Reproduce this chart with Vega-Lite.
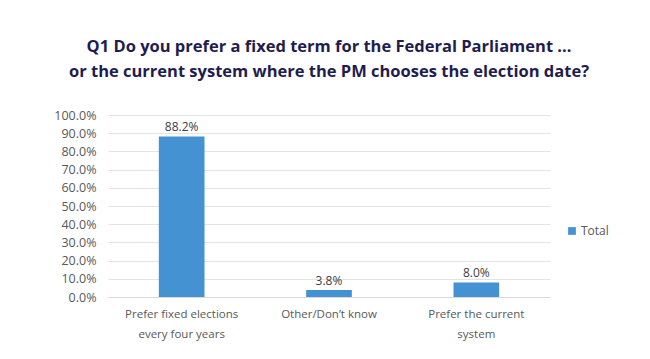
{
  "$schema": "https://vega.github.io/schema/vega-lite/v6.json",
  "width": 442,
  "height": 182,
  "autosize": {"type": "none"},
  "padding": {"left": 108, "top": 115, "right": 100, "bottom": 62},
  "background": "white",
  "title": {
    "text": ["Q1 Do you prefer a fixed term for the Federal Parliament ...", "or the current system where the PM chooses the election date?"],
    "font": "Open Sans",
    "fontSize": 16.5,
    "fontWeight": "bold",
    "color": "#1f1d4f",
    "lineHeight": 25,
    "anchor": "middle",
    "offset": 29
  },
  "data": {
    "values": [
      {"answer": "Prefer fixed elections every four years", "pct": 0.882, "series": "Total"},
      {"answer": "Other/Don't know", "pct": 0.038, "series": "Total"},
      {"answer": "Prefer the current system", "pct": 0.08, "series": "Total"}
    ]
  },
  "config": {
    "view": {"stroke": null},
    "font": "Open Sans",
    "axis": {"labelFont": "Open Sans", "labelColor": "#595959"}
  },
  "encoding": {
    "x": {
      "field": "answer",
      "type": "nominal",
      "sort": null,
      "scale": {"paddingInner": 0.69, "paddingOuter": 0.345},
      "axis": {
        "title": null,
        "labelAngle": 0,
        "ticks": false,
        "domain": true,
        "domainColor": "#d9d9d9",
        "labelFontSize": 11.5,
        "labelPadding": 11,
        "labelLineHeight": 20,
        "labelExpr": "datum.label == 'Prefer fixed elections every four years' ? ['Prefer fixed elections', 'every four years'] : datum.label == 'Prefer the current system' ? ['Prefer the current', 'system'] : 'Other/Don’t know'"
      }
    },
    "y": {
      "field": "pct",
      "type": "quantitative",
      "scale": {"domain": [0, 1]},
      "axis": {
        "title": null,
        "format": ".1%",
        "values": [0, 0.1, 0.2, 0.3, 0.4, 0.5, 0.6, 0.7, 0.8, 0.9, 1.0],
        "ticks": false,
        "domain": false,
        "gridColor": "#e3e3e3",
        "labelFontSize": 12.5,
        "labelPadding": 12
      }
    }
  },
  "layer": [
    {
      "mark": {"type": "bar"},
      "encoding": {
        "color": {
          "field": "series",
          "type": "nominal",
          "scale": {"range": ["#4592d2"]},
          "legend": {
            "title": null,
            "orient": "none",
            "legendX": 458,
            "legendY": 110,
            "symbolType": "square",
            "symbolSize": 60,
            "labelFontSize": 12,
            "labelColor": "#595959",
            "labelFont": "Open Sans",
            "labelOffset": 3
          }
        }
      }
    },
    {
      "mark": {"type": "text", "dy": -9, "fontSize": 12, "color": "#404040", "font": "Open Sans"},
      "encoding": {
        "text": {"field": "pct", "type": "quantitative", "format": ".1%"}
      }
    }
  ]
}
